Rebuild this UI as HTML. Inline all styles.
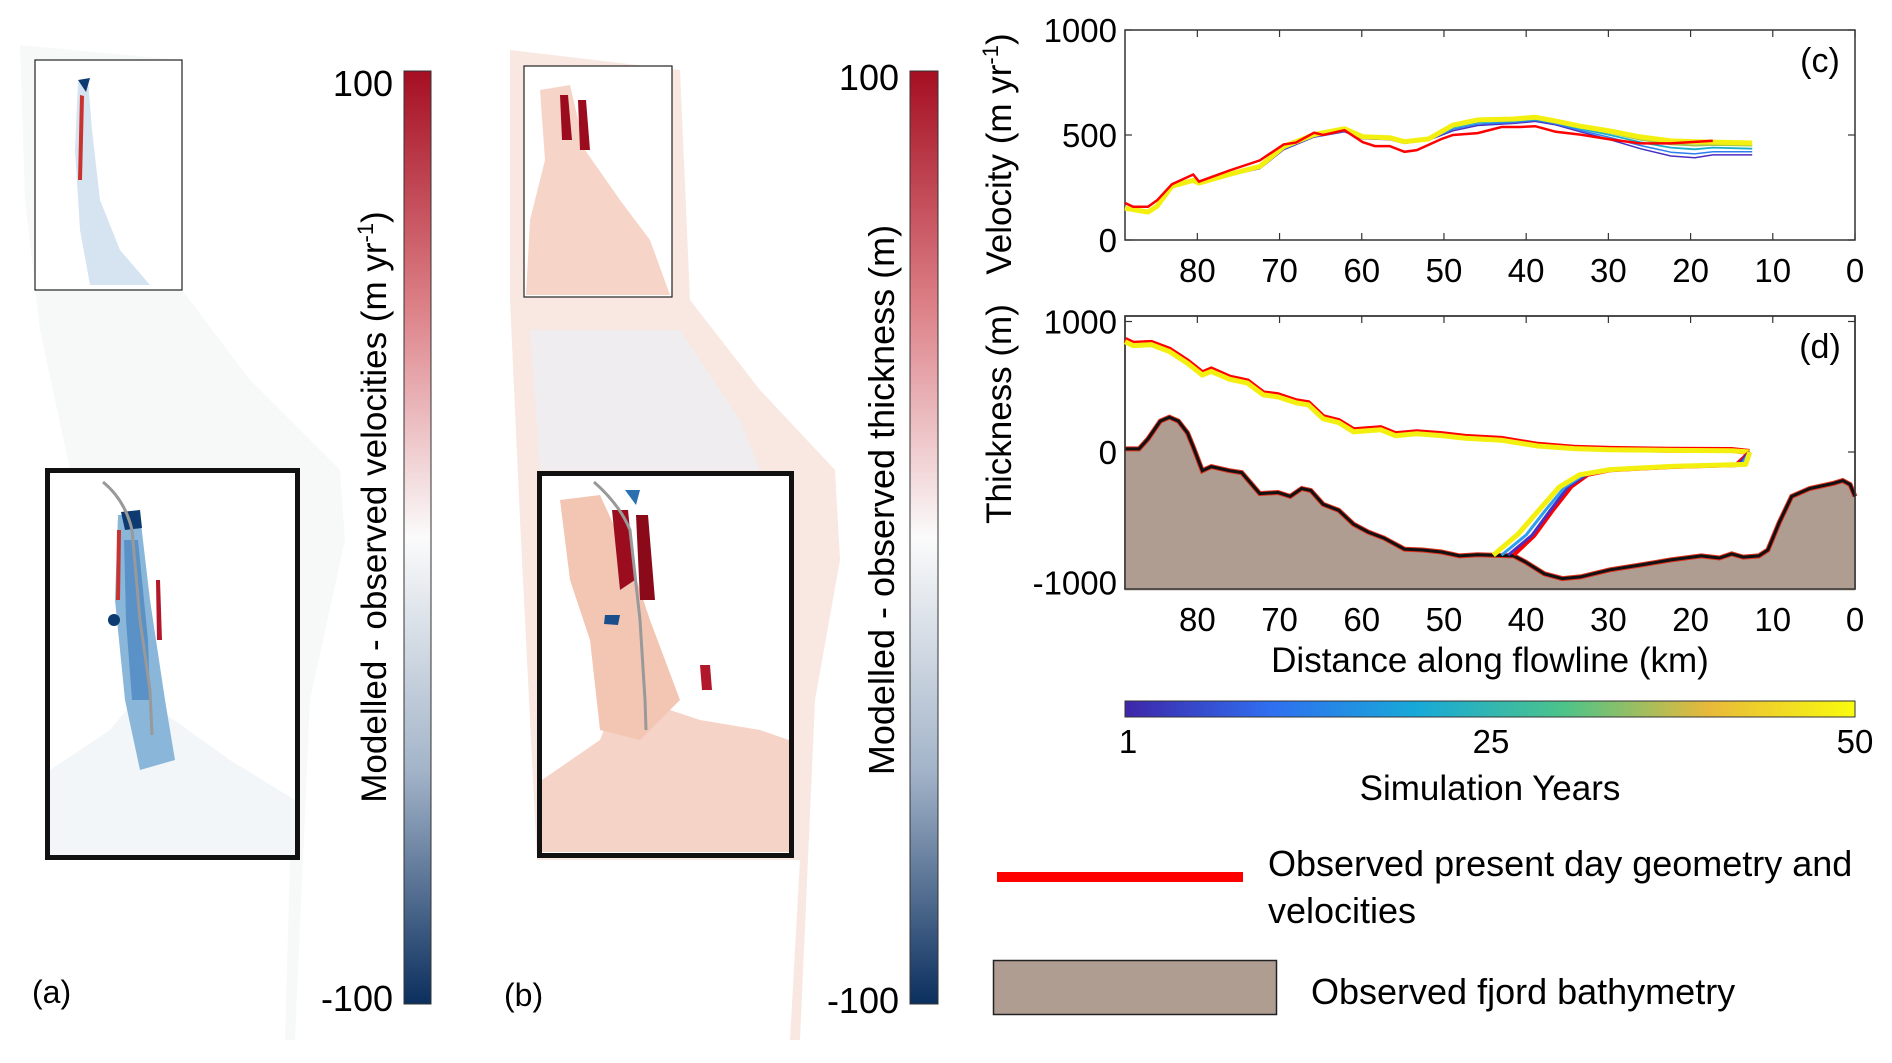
<!DOCTYPE html>
<html><head><meta charset="utf-8"><style>
html,body{margin:0;padding:0;background:#fff;}
svg{display:block;font-family:"Liberation Sans",sans-serif;}
</style></head><body>
<svg id="fig" width="1892" height="1063" viewBox="0 0 1892 1063" xmlns="http://www.w3.org/2000/svg">
<defs>
<linearGradient id="rdbu" x1="0" y1="0" x2="0" y2="1">
<stop offset="0" stop-color="#a50f22"/><stop offset="0.25" stop-color="#dc7f86"/><stop offset="0.5" stop-color="#fbfbfb"/><stop offset="0.75" stop-color="#a3b4c9"/><stop offset="1" stop-color="#0b2f5e"/>
</linearGradient>
<linearGradient id="parula" x1="0" y1="0" x2="1" y2="0">
<stop offset="0" stop-color="#3e26a8"/><stop offset="0.2" stop-color="#2f6ff0"/><stop offset="0.4" stop-color="#18a9d8"/><stop offset="0.6" stop-color="#4cc38a"/><stop offset="0.8" stop-color="#e8b93a"/><stop offset="1" stop-color="#f9fb0e"/>
</linearGradient>
</defs>

<!-- Map (a) -->
<g>
<polygon points="20,45 180,60 182,290 250,380 340,470 345,540 310,700 295,1040 285,1040 290,860 45,860 45,560 70,470 40,330 25,200" fill="#f7f8f8"/>
<rect x="35" y="60" width="147" height="230" fill="#fff" stroke="#222" stroke-width="1.2"/>
<path d="M78,82 L88,80 L92,130 L100,200 L120,250 L150,285 L90,285 L80,230 L75,150 Z" fill="#d6e4f1"/>
<path d="M78,80 L90,78 L86,92 Z" fill="#0d3a70"/>
<path d="M80,95 L84,96 L82,180 L78,180 Z" fill="#c8322f"/>
<rect x="47.5" y="470.5" width="250" height="387" fill="#fff" stroke="#111" stroke-width="5"/>
<path d="M50,855 L50,770 L110,730 L135,700 L160,710 L230,760 L295,800 L295,855 Z" fill="#f3f6f8"/>
<path d="M118,515 L140,515 L150,600 L165,700 L175,760 L140,770 L125,700 L115,600 Z" fill="#8ab6da"/>
<path d="M124,540 L138,540 L148,640 L150,700 L132,700 L126,620 Z" fill="#5a92c8"/>
<path d="M121,512 L140,510 L142,528 L125,530 Z" fill="#0d3a70"/>
<path d="M117,530 L121,530 L120,600 L116,600 Z" fill="#c8322f"/>
<path d="M156,580 L160,580 L162,640 L157,640 Z" fill="#b2182b"/>
<circle cx="114" cy="620" r="6" fill="#0d3a70"/>
<path d="M103,482 Q125,500 132,530 L140,620 L150,690 L152,735" fill="none" stroke="#999" stroke-width="3"/>
<text x="32" y="1003" font-size="32">(a)</text>
</g>

<!-- Colorbar a -->
<g>
<rect x="404" y="71" width="27" height="933" fill="url(#rdbu)" stroke="#333" stroke-width="1"/>
<text x="393" y="96" font-size="36" text-anchor="end">100</text>
<text x="393" y="1011" font-size="36" text-anchor="end">-100</text>
<text transform="translate(386,507) rotate(-90)" font-size="35" text-anchor="middle">Modelled - observed velocities (m yr<tspan font-size="22" dy="-13">-1</tspan><tspan dy="13">)</tspan></text>
</g>

<!-- Map (b) -->
<g>
<polygon points="510,50 680,70 690,300 760,390 835,470 840,560 815,700 800,1040 790,1040 800,860 537,860 520,520 510,300" fill="#f8e8e1"/>
<path d="M530,330 L680,330 L740,420 L760,470 L540,470 Z" fill="#ebf0f5" opacity="0.7"/>
<rect x="524" y="66" width="148" height="231" fill="#fff" stroke="#222" stroke-width="1.2"/>
<path d="M540,90 L570,85 L585,150 L620,200 L650,240 L670,295 L526,295 L530,220 L545,160 Z" fill="#f6d5c8"/>
<path d="M560,95 L568,95 L572,140 L562,140 Z" fill="#9b0d1e"/>
<path d="M578,100 L586,100 L590,150 L580,150 Z" fill="#9b0d1e"/>
<rect x="539.5" y="473.5" width="252" height="382" fill="#fff" stroke="#111" stroke-width="5"/>
<path d="M542,852 L542,780 L600,740 L620,690 L640,700 L700,720 L760,730 L789,740 L789,852 Z" fill="#f5d3c6"/>
<path d="M560,500 L600,495 L630,560 L650,620 L680,700 L640,740 L600,730 L590,640 L570,580 Z" fill="#f3c6b4"/>
<path d="M612,510 L628,510 L635,580 L620,590 Z" fill="#9b0d1e"/>
<path d="M636,515 L648,515 L655,600 L640,600 Z" fill="#8a0a1a"/>
<path d="M625,490 L640,490 L636,505 Z" fill="#2a6fb0"/>
<path d="M605,615 L620,615 L618,625 L604,624 Z" fill="#1b4f8c"/>
<path d="M700,665 L710,665 L712,690 L702,690 Z" fill="#b2182b"/>
<path d="M594,482 Q620,505 630,530 L640,620 L645,700 L646,730" fill="none" stroke="#999" stroke-width="3"/>
<text x="504" y="1006" font-size="32">(b)</text>
</g>

<!-- Colorbar b -->
<g>
<rect x="910" y="71" width="28" height="933" fill="url(#rdbu)" stroke="#333" stroke-width="1"/>
<text x="899" y="90" font-size="36" text-anchor="end">100</text>
<text x="899" y="1013" font-size="36" text-anchor="end">-100</text>
<text transform="translate(894,500) rotate(-90)" font-size="36" text-anchor="middle">Modelled - observed thickness (m)</text>
</g>

<g id="charts"></g>

<!-- Simulation years colorbar -->
<g>
<rect x="1125" y="701" width="730" height="16" fill="url(#parula)" stroke="#333" stroke-width="1"/>
<text x="1128" y="753" font-size="33" text-anchor="middle">1</text>
<text x="1491" y="753" font-size="33" text-anchor="middle">25</text>
<text x="1855" y="753" font-size="33" text-anchor="middle">50</text>
<text x="1490" y="800" font-size="35" text-anchor="middle">Simulation Years</text>
</g>

<!-- Legend -->
<g>
<rect x="997" y="872" width="246" height="10" fill="#ff0000"/>
<text x="1268" y="876" font-size="36">Observed present day geometry and</text>
<text x="1268" y="923" font-size="36">velocities</text>
<rect x="993.5" y="960.5" width="283" height="54" fill="#b09d92" stroke="#222" stroke-width="1.5"/>
<text x="1311" y="1004" font-size="36">Observed fjord bathymetry</text>
</g>
</svg>
<script>
// ---- Velocity panel (c) data ----
const velKm = [88.8,86,84.9,83.1,80.5,79.8,76.1,72.4,69.5,65.8,62.1,59.9,56.6,54.8,51.9,48.9,45.9,41.5,38.9,36.4,33.4,29.8,26.1,22.4,19.5,17.3,12.5];
const velYear1  = [155,138,163,258,280,270,308,340,430,490,515,482,478,460,475,520,545,555,565,548,515,478,435,400,392,405,405];
const velYear12 = [154,136,162,257,281,270,309,342,434,493,518,484,480,462,476,527,552,560,570,553,522,488,450,418,410,420,420];
const velYear25 = [153,135,162,257,282,270,310,345,438,496,522,487,482,464,478,535,560,566,575,558,530,500,465,440,432,440,435];
const velYear38 = [152,134,161,256,283,270,312,348,442,499,526,490,485,466,480,541,566,571,580,562,536,510,478,456,450,453,450];
const velYear50 = [152,133,161,256,284,271,313,350,445,502,530,492,487,468,481,547,572,576,585,566,542,519,491,472,468,466,462];
const velObsKm = [88.8,87.8,86,84.9,83.1,80.5,79.8,76.1,72.4,69.5,68,65.8,64.7,62.1,59.9,58.4,56.6,54.8,53.3,50.3,48.9,45.9,43,40.8,38.9,36.4,33.4,29.8,26.1,22.4,17.3];
const velObs = [176,158,158,189,265,312,278,331,379,455,464,511,500,523,466,447,447,420,428,481,500,509,538,538,542,515,502,479,460,460,473];
const xTicks = [80,70,60,50,40,30,20,10,0];
const velYTicks = [0,500,1000];
const thkYTicks = [-1000,0,1000];

// ---- Thickness panel (d) data ----
const surfKm = [88.8,87.8,85.6,83.4,81.2,79.4,78.3,76.1,73.9,72,70.2,68,66.5,64.7,62.8,61,57.7,55.9,53.3,50.3,47.4,43,38.6,34.2,29.8,22.4,15,12.8];
const surfObs = [860,830,836,784,693,602,632,571,541,450,435,389,374,267,237,167,182,137,152,137,116,100,55,33,24,18,15,0];
const surfY50 = [845,815,822,770,680,590,618,558,528,438,422,377,362,255,225,155,170,125,140,126,106,90,46,26,18,12,10,0];
const baseKm50 = [12.8,13.3,22.4,29.8,33.5,36,38.5,41,44];
const baseY50 = [0,-95,-110,-135,-175,-270,-450,-630,-790];
const baseKm25 = [12.8,13.8,22.4,29.8,33,35.3,37.7,40,43];
const baseY25 = [0,-97,-112,-137,-175,-268,-450,-635,-790];
const baseKm1 = [12.8,14.2,22.4,29.8,32.7,34.9,37.1,39.3,42.2];
const baseY1 = [0,-98,-114,-138,-175,-266,-450,-638,-790];
const baseKmObs = [12.8,14.5,22.4,29.8,32.5,34.5,36.8,39,41.5];
const baseObs = [0,-100,-115,-140,-175,-265,-450,-640,-790];
const bedKm = [88.8,87.1,86,84.5,83.4,82.3,81.2,80.5,79.4,78.3,76.1,74.6,72.4,70.2,68.7,67.3,66.2,64.7,62.8,61,59.2,57.3,54.8,52.6,50.3,48.1,45.9,41.5,40.1,37.8,35.6,33.4,29.8,26.1,22.4,18.7,16.5,15,13.6,11.7,10.6,9.2,7.7,5.5,2.6,1.5,0.6,0];
const bedElev = [24,24,100,237,267,237,146,40,-143,-112,-143,-158,-319,-310,-340,-280,-295,-401,-447,-553,-614,-660,-745,-751,-766,-796,-787,-796,-842,-933,-970,-957,-903,-866,-827,-796,-812,-781,-805,-796,-751,-538,-340,-280,-240,-219,-249,-340];

const NS = 'http://www.w3.org/2000/svg';
const root = document.getElementById('charts');
const X0 = 1125, X1 = 1855, KMAX = 88.8;
function xs(k){ return X0 + (KMAX - k) / KMAX * (X1 - X0); }
function vy(v){ return 240 - v / 1000 * 210; }
function ty(m){ return 452 - m * 0.1305; }
function mk(tag, attrs, parent){
  const e = document.createElementNS(NS, tag);
  for (const k in attrs) e.setAttribute(k, attrs[k]);
  (parent || root).appendChild(e);
  return e;
}
function pts(kms, vals, yf){ return kms.map((k,i)=> xs(k).toFixed(1)+','+yf(vals[i]).toFixed(1)).join(' '); }

function axesBox(top, bottom, yTicks, yf, name, panel){
  const g = mk('g', {});
  
  
  mk('rect', {x:X0, y:top, width:X1-X0, height:bottom-top, fill:'none', stroke:'#333', 'stroke-width':1.5}, g);
  xTicks.forEach(t => {
    const x = xs(t);
    mk('line', {x1:x, y1:bottom, x2:x, y2:bottom-7, stroke:'#333', 'stroke-width':1.2}, g);
    mk('line', {x1:x, y1:top, x2:x, y2:top+7, stroke:'#333', 'stroke-width':1.2}, g);
    const tx = mk('text', {x:x, y:bottom+42, 'font-size':33, 'text-anchor':'middle'}, g);
    tx.textContent = t;
    
    
  });
  yTicks.forEach(t => {
    const y = yf(t);
    mk('line', {x1:X0, y1:y, x2:X0+7, y2:y, stroke:'#333', 'stroke-width':1.2}, g);
    mk('line', {x1:X1, y1:y, x2:X1-7, y2:y, stroke:'#333', 'stroke-width':1.2}, g);
    const ty_ = mk('text', {x:X0-8, y:y+12, 'font-size':33, 'text-anchor':'end'}, g);
    ty_.textContent = t;
    
    
  });
  const pl = mk('text', {x:1820, y:top+42, 'font-size':34, 'text-anchor':'middle'}, g);
  pl.textContent = panel;
  
  
  return g;
}

// Panel c
const gc = axesBox(30, 240, velYTicks, vy, 'velocity-panel-c', '(c)');
const vl = mk('text', {transform:'translate(1011,154) rotate(-90)', 'font-size':35, 'text-anchor':'middle'}, gc);
vl.innerHTML = 'Velocity (m yr<tspan font-size="22" dy="-13">-1</tspan><tspan dy="13">)</tspan>';


const velSeries = [[velYear1,'#4a2fc0',1.5],[velYear12,'#2f7ef0',1.5],[velYear25,'#17b0c8',1.8],[velYear38,'#a6c84a',2],[velYear50,'#f3f00f',5]];
velSeries.forEach(s => {
  const p = mk('polyline', {points:pts(velKm, s[0], vy), fill:'none', stroke:s[1], 'stroke-width':s[2], 'stroke-linejoin':'round'}, gc);
  
  
});
const vo = mk('polyline', {points:pts(velObsKm, velObs, vy), fill:'none', stroke:'#ff0000', 'stroke-width':2.5}, gc);



// Panel d
const gd = axesBox(316, 589, thkYTicks, ty, 'thickness-panel-d', '(d)');
const bedPath = 'M'+xs(bedKm[0])+','+ty(-1060)+' L'+pts(bedKm, bedElev, ty).replace(/ /g,' L')+' L'+xs(0)+','+ty(-1060)+' Z';
const bed = mk('path', {d:bedPath, fill:'#b09d92', stroke:'none'}, gd);


const bedRed = mk('polyline', {points:pts(bedKm, bedElev, ty), fill:'none', stroke:'#e0301e', 'stroke-width':5}, gd);


const bedLine = mk('polyline', {points:pts(bedKm, bedElev, ty), fill:'none', stroke:'#111', 'stroke-width':3}, gd);


mk('rect', {x:X0, y:316, width:X1-X0, height:273, fill:'none', stroke:'#333', 'stroke-width':1.5}, gd);

const sObs = mk('polyline', {points:pts(surfKm, surfObs, ty), fill:'none', stroke:'#ff0000', 'stroke-width':6}, gd);


const s50 = mk('polyline', {points:pts(surfKm, surfY50, ty), fill:'none', stroke:'#f3f00f', 'stroke-width':5}, gd);


const baseSeries = [[baseKmObs, baseObs, '#ff0000', 4],[baseKm1, baseY1, '#4a2fc0', 3],[baseKm25, baseY25, '#2f9ef0', 3],[baseKm50, baseY50, '#f3f00f', 5]];
baseSeries.forEach(s => {
  const p = mk('polyline', {points:pts(s[0], s[1], ty), fill:'none', stroke:s[2], 'stroke-width':s[3], 'stroke-linejoin':'round'}, gd);
  
  
});
const tl = mk('text', {transform:'translate(1011,414) rotate(-90)', 'font-size':35, 'text-anchor':'middle'}, gd);
tl.textContent = 'Thickness (m)';


const xl = mk('text', {x:1490, y:672, 'font-size':35, 'text-anchor':'middle'}, gd);
xl.textContent = 'Distance along flowline (km)';


</script>
</body></html>
